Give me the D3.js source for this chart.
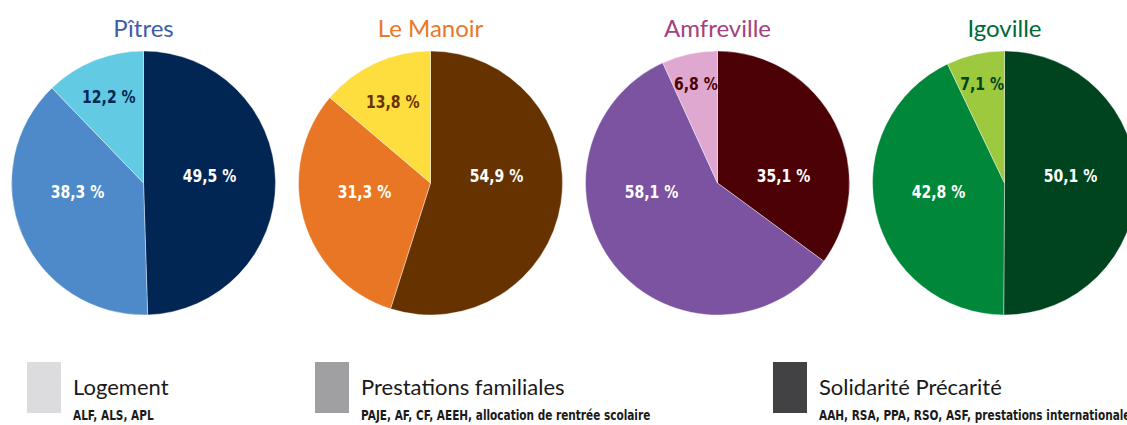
<!DOCTYPE html>
<html>
<head>
<meta charset="utf-8">
<script src="https://cdn.jsdelivr.net/npm/d3@7"></script>
<style>
  html, body { margin: 0; padding: 0; background: #fff; overflow: hidden; }
  svg { display: block; }
</style>
</head>
<body>
<div id="chart"></div>
<script>
// Données
var villes = ["Pîtres", "Le Manoir", "Amfreville", "Igoville"];
var categories = ["Solidarité Précarité", "Prestations familiales", "Logement"];
var solidarite = [49.5, 54.9, 35.1, 50.1];
var prestations = [38.3, 31.3, 58.1, 42.8];
var logement = [12.2, 13.8, 6.8, 7.1];
var legendeNoms = ["Logement", "Prestations familiales", "Solidarité Précarité"];
var legendeDetails = ["ALF, ALS, APL",
  "PAJE, AF, CF, AEEH, allocation de rentrée scolaire",
  "AAH, RSA, PPA, RSO, ASF, prestations internationales"];

// Couleurs (foncé, moyen, clair) et couleur du titre
var palettes = {
  "Pîtres":     { parts: ["#012654", "#4e8ac9", "#63cae3"], titre: "#3f5ca9" },
  "Le Manoir":  { parts: ["#663300", "#e87624", "#fedd3f"], titre: "#e8782a" },
  "Amfreville": { parts: ["#4c0106", "#7c53a1", "#dea8d0"], titre: "#a2417f" },
  "Igoville":   { parts: ["#00441f", "#00873a", "#9cc93d"], titre: "#00693a" }
};
var legendeCouleurs = ["#dcdcde", "#a0a0a3", "#424244"];

var width = 1127, height = 425;
var rayon = 132, cy = 183;
var etroit = 0.78; // compression horizontale pour imiter une police condensée
var policeCond = "'DejaVu Sans', sans-serif";

var svg = d3.select("#chart").append("svg")
  .attr("width", width)
  .attr("height", height);

var x = d3.scaleBand().domain(villes).range([0, 1148]);

var pie = d3.pie().sort(null).value(function(d) { return d.valeur; });
var arc = d3.arc().innerRadius(0).outerRadius(rayon);

villes.forEach(function(ville, i) {
  var donnees = [
    { cat: categories[0], valeur: solidarite[i] },
    { cat: categories[1], valeur: prestations[i] },
    { cat: categories[2], valeur: logement[i] }
  ];
  var pal = palettes[ville];
  var cx = x(ville) + x.bandwidth() / 2;

  var g = svg.append("g").attr("transform", "translate(" + cx + "," + cy + ")");

  // Titre
  g.append("text")
    .attr("x", 0)
    .attr("y", -rayon - 14)
    .attr("text-anchor", "middle")
    .attr("font-family", "Lato, 'Open Sans', sans-serif")
    .attr("font-size", "24px")
    .attr("fill", pal.titre)
    .text(ville);

  var arcs = pie(donnees);

  g.selectAll("path")
    .data(arcs)
    .enter()
    .append("path")
      .attr("d", arc)
      .attr("fill", function(d, j) { return pal.parts[j]; })
      .attr("stroke", "#fff")
      .attr("stroke-width", 0.4);

  // Etiquettes
  g.selectAll("text.val")
    .data(arcs)
    .enter()
    .append("text")
      .attr("class", "val")
      .attr("transform", function(d) {
        var mid = (d.startAngle + d.endAngle) / 2;
        var frac = d.value / 100;
        var px, py;
        if (frac >= 0.2) {
          var cote = Math.sin(mid) > 0 ? 1 : -1;
          px = cote * rayon * 0.5;
          py = cote > 0 ? -rayon * 0.055 : rayon * 0.065;
        } else {
          var r = rayon * (0.86 - 1.3 * frac);
          px = r * Math.sin(mid);
          py = -r * Math.cos(mid);
        }
        return "translate(" + px + "," + py + ") scale(" + etroit + ",1)";
      })
      .attr("text-anchor", "middle")
      .attr("dominant-baseline", "central")
      .attr("font-family", policeCond)
      .attr("font-weight", "bold")
      .attr("font-size", "18px")
      .attr("fill", function(d, j) { return j === 2 ? pal.parts[0] : "#fff"; })
      .text(function(d) { return String(d.value).replace(".", ",") + " %"; });
});

// Légende
var legendeX = [27, 315, 773];
var leg = svg.selectAll("g.leg")
  .data(legendeNoms)
  .enter()
  .append("g")
    .attr("class", "leg")
    .attr("transform", function(d, i) { return "translate(" + legendeX[i] + ",362)"; });

leg.append("rect")
  .attr("width", 34)
  .attr("height", 51)
  .attr("fill", function(d, i) { return legendeCouleurs[i]; });

leg.append("text")
  .attr("x", 46)
  .attr("y", 33)
  .attr("font-family", "Lato, 'Open Sans', sans-serif")
  .attr("font-size", "22px")
  .attr("fill", "#1a1a1a")
  .text(function(d) { return d; });

leg.append("text")
  .attr("transform", "translate(46,58) scale(" + etroit + ",1)")
  .attr("font-family", policeCond)
  .attr("font-weight", "bold")
  .attr("font-size", "13.5px")
  .attr("fill", "#1a1a1a")
  .text(function(d, i) { return legendeDetails[i]; });
</script>
</body>
</html>
